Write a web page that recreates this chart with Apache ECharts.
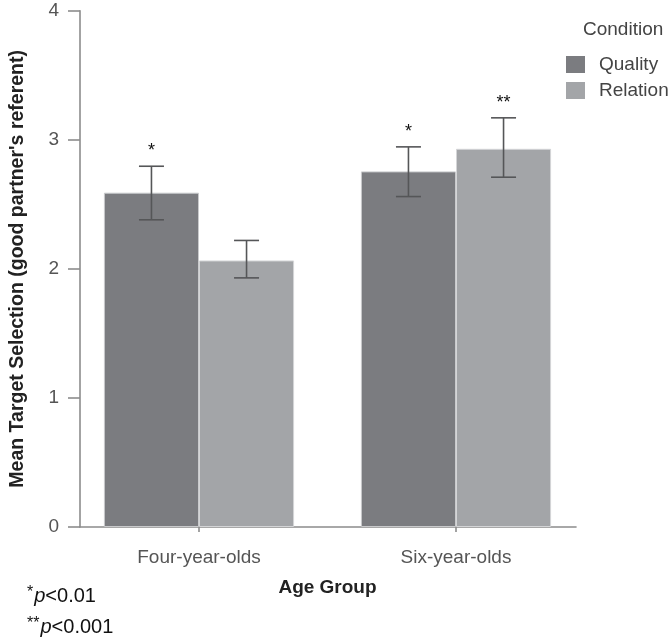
<!DOCTYPE html>
<html>
<head>
<meta charset="utf-8">
<script src="https://cdn.jsdelivr.net/npm/echarts@6/dist/echarts.min.js"></script>
<style>
html,body{margin:0;padding:0;background:#fff;}
#chart{width:668px;height:642px;}
</style>
</head>
<body>
<div id="chart"></div>
<script>
// ---- data ----
const categories = ['Four-year-olds', 'Six-year-olds'];
const seriesNames = ['Quality', 'Relation'];
const qualityMean = [2.59, 2.755];
const qualityLow = [2.38, 2.56];
const qualityHigh = [2.795, 2.945];
const qualityStars = ['*', '*'];
const relationMean = [2.065, 2.93];
const relationLow = [1.93, 2.71];
const relationHigh = [2.22, 3.17];
const relationStars = ['', '**'];
const yTicks = [0, 1, 2, 3, 4];

const FONT = '"Liberation Sans", Arial, sans-serif';
const colQuality = '#7b7c80';
const colRelation = '#a3a5a8';
const gapRatio = 0.26;

function errorSeries(name, lows, highs, stars, side) {
  return {
    type: 'custom',
    name: name + ' error',
    xAxisIndex: 1, yAxisIndex: 1,
    z: 5,
    silent: true,
    data: lows.map((l, i) => [i, l, highs[i]]),
    encode: { x: 0, y: [1, 2] },
    renderItem: function (params, api) {
      const ci = api.value(0), lo = api.value(1), hi = api.value(2);
      const band = api.size([1, 0])[0];
      const group = band * (1 - gapRatio);
      const cx = api.coord([ci, 0])[0] + side * group / 4;
      const yt = api.coord([ci, hi])[1];
      const yb = api.coord([ci, lo])[1];
      const cap = 12.5;
      const ls = { stroke: '#555658', lineWidth: 1.6 };
      const children = [
        { type: 'line', shape: { x1: cx, y1: yt, x2: cx, y2: yb }, style: ls },
        { type: 'line', shape: { x1: cx - cap, y1: yt, x2: cx + cap, y2: yt }, style: ls },
        { type: 'line', shape: { x1: cx - cap, y1: yb, x2: cx + cap, y2: yb }, style: ls }
      ];
      const s = stars[params.dataIndex];
      if (s) {
        children.push({
          type: 'text',
          style: {
            text: s, x: cx, y: yt - 6,
            align: 'center', verticalAlign: 'bottom',
            fill: '#111', font: '18px ' + FONT
          }
        });
      }
      return { type: 'group', children: children };
    }
  };
}

const richFoot = {
  s: { fontFamily: FONT, fontSize: 16, fill: '#111', verticalAlign: 'top', padding: [0, 1, 7, 0] },
  i: { fontFamily: FONT, fontSize: 20, fontStyle: 'italic', fill: '#111' },
  n: { fontFamily: FONT, fontSize: 20, fill: '#111' }
};

const chart = echarts.init(document.getElementById('chart'), null, { renderer: 'canvas' });
const option = {
  animation: false,
  backgroundColor: '#ffffff',
  title: {
    text: 'Condition', left: 583, top: 20, padding: 0,
    textStyle: { fontFamily: FONT, fontSize: 19, fontWeight: 'normal', color: '#444' }
  },
  legend: {
    data: seriesNames,
    orient: 'vertical',
    left: 566, top: 55, padding: 0,
    itemWidth: 19, itemHeight: 17, itemGap: 7,
    icon: 'rect',
    selectedMode: false,
    itemStyle: { borderWidth: 0 },
    textStyle: { fontFamily: FONT, fontSize: 19, color: '#444', padding: [0, 0, 0, 9] }
  },
  grid: [
    { left: 79, right: 92, top: 10.7, bottom: 115 },
    { left: 70.5, right: 83.5, top: 10.7, bottom: 115 }
  ],
  xAxis: [
    {
      type: 'category', gridIndex: 0, data: categories,
      axisLine: { lineStyle: { color: '#8c8c8c', width: 1.6 } },
      axisTick: { show: false }, axisLabel: { show: false }
    },
    {
      type: 'category', gridIndex: 1, data: categories,
      axisLine: { show: false },
      axisTick: { show: true, alignWithLabel: true, length: 5, lineStyle: { color: '#8c8c8c', width: 1.6 } },
      axisLabel: { margin: 21, fontFamily: FONT, fontSize: 19, color: '#555' },
      name: 'Age Group', nameLocation: 'middle', nameGap: 51,
      nameTextStyle: { fontFamily: FONT, fontSize: 19, fontWeight: 'bold', color: '#222' }
    }
  ],
  yAxis: [
    {
      type: 'value', gridIndex: 0, min: 0, max: 4, interval: 1,
      axisLine: { show: true, lineStyle: { color: '#8c8c8c', width: 1.6 } },
      axisTick: { show: true, length: 12, lineStyle: { color: '#8c8c8c', width: 1.6 } },
      axisLabel: { margin: 21, fontFamily: FONT, fontSize: 19, color: '#555',
        formatter: v => (yTicks.indexOf(v) >= 0 ? String(v) : '') },
      splitLine: { show: false },
      name: "Mean Target Selection (good partner's referent)",
      nameLocation: 'middle', nameGap: 52,
      nameTextStyle: { fontFamily: FONT, fontSize: 19.5, fontWeight: 'bold', color: '#222' }
    },
    {
      type: 'value', gridIndex: 1, min: 0, max: 4, interval: 1, show: false
    }
  ],
  series: [
    {
      type: 'bar', name: seriesNames[0], xAxisIndex: 1, yAxisIndex: 1,
      data: qualityMean, barGap: '0%', barCategoryGap: (gapRatio * 100) + '%',
      itemStyle: { color: colQuality, borderColor: '#c9cacc', borderWidth: 1 }
    },
    {
      type: 'bar', name: seriesNames[1], xAxisIndex: 1, yAxisIndex: 1,
      data: relationMean, barGap: '0%', barCategoryGap: (gapRatio * 100) + '%',
      itemStyle: { color: colRelation, borderColor: '#d4d5d7', borderWidth: 1 }
    },
    errorSeries(seriesNames[0], qualityLow, qualityHigh, qualityStars, -1),
    errorSeries(seriesNames[1], relationLow, relationHigh, relationStars, 1)
  ],
  graphic: [
    {
      type: 'text', left: 27, top: 585,
      style: { text: '{s|*}{i|p}{n|<0.01}', rich: richFoot }
    },
    {
      type: 'text', left: 27, top: 616,
      style: { text: '{s|**}{i|p}{n|<0.001}', rich: richFoot }
    }
  ]
};
chart.setOption(option);
</script>
</body>
</html>
